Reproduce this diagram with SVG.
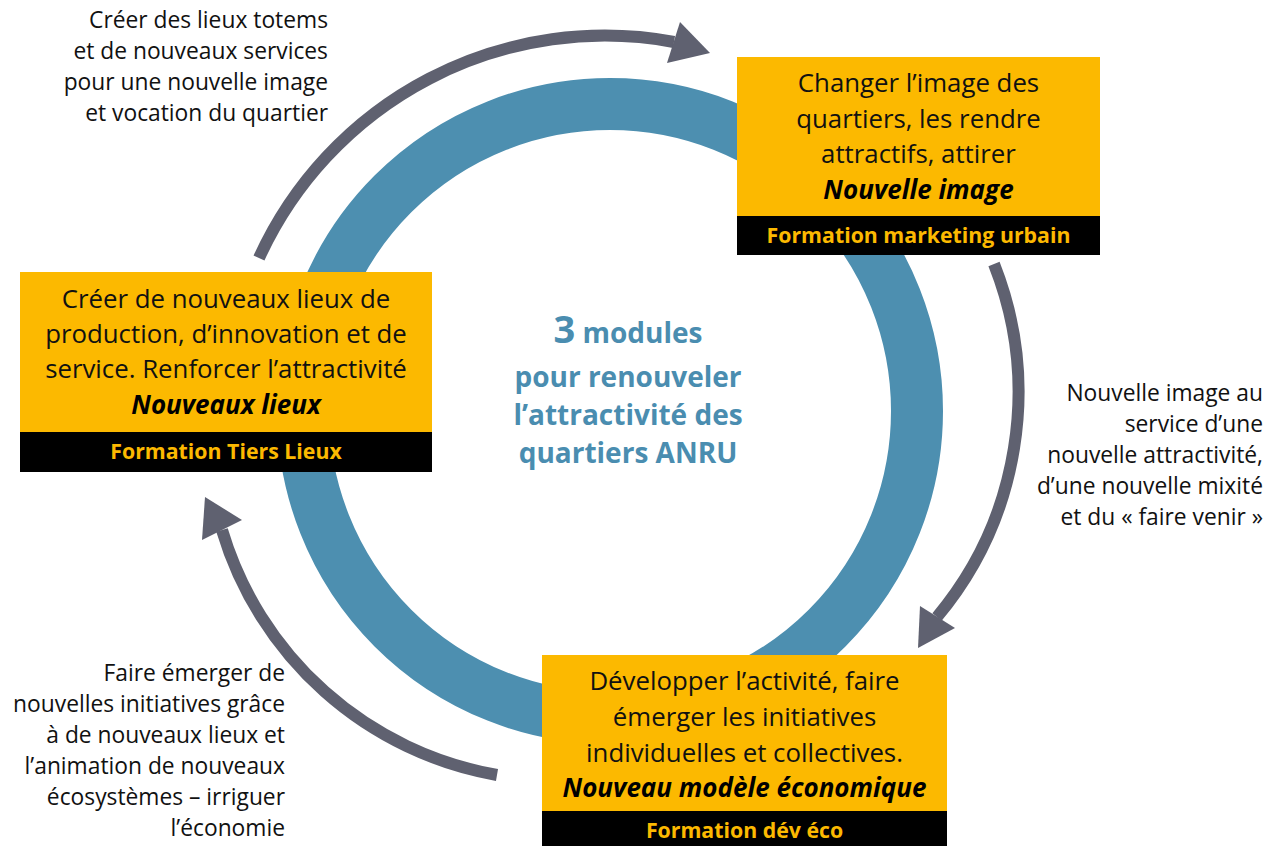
<svg xmlns="http://www.w3.org/2000/svg" width="1270" height="846" viewBox="0 0 1270 846">
<style>
.box{fill:#FCB900}
.band{fill:#000}
.bt{font-family:"Open Sans","Liberation Sans",sans-serif;font-size:25.8px;fill:#111;text-anchor:middle}
.bi{font-family:"Open Sans","Liberation Sans",sans-serif;font-size:26px;fill:#000;text-anchor:middle;font-weight:bold;font-style:italic}
.bb{font-family:"Open Sans","Liberation Sans",sans-serif;font-size:21.3px;fill:#FCB900;text-anchor:middle;font-weight:bold}
.lab{font-family:"Open Sans","Liberation Sans",sans-serif;font-size:22.8px;fill:#111;text-anchor:end}
.ctr{font-family:"Open Sans","Liberation Sans",sans-serif;font-size:28px;fill:#4A8DB0;text-anchor:middle;font-weight:bold}
.shaft{fill:none;stroke:#5F6170;stroke-width:12;stroke-linecap:butt}
.head{fill:#5F6170}
</style>
<g id="ring">
<circle cx="610" cy="411" r="307" fill="none" stroke="#4D8FB0" stroke-width="52"/>
</g>
<g id="connectors">
<path class="shaft" d="M 259 258 A 380 380 0 0 1 674 42"/>
<polygon class="head" points="680,22 710,53 667,63"/>
<path class="shaft" d="M 994 264 A 350 350 0 0 1 937 617"/>
<polygon class="head" points="920,606 918,648 955,628"/>
<path class="shaft" d="M 497 775 A 350 350 0 0 1 222 530"/>
<polygon class="head" points="202,540 205,497 242,520"/>
</g>
<g id="center-title">
<text class="ctr" x="628" y="343"><tspan font-size="38">3</tspan> modules</text>
<text class="ctr" x="628" y="387">pour renouveler</text>
<text class="ctr" x="628" y="425">l’attractivité des</text>
<text class="ctr" x="628" y="463">quartiers ANRU</text>
</g>
<g id="node-image">
<rect class="box" x="737" y="57" width="363" height="159"/>
<rect class="band" x="737" y="216" width="363" height="39"/>
<text class="bt" x="918.5" y="92">Changer l’image des</text>
<text class="bt" x="918.5" y="127.5">quartiers, les rendre</text>
<text class="bt" x="918.5" y="163">attractifs, attirer</text>
<text class="bi" x="918.5" y="198.5">Nouvelle image</text>
<text class="bb" x="918.5" y="243">Formation marketing urbain</text>
</g>
<g id="node-lieux">
<rect class="box" x="20" y="272" width="412" height="160"/>
<rect class="band" x="20" y="432" width="412" height="40"/>
<text class="bt" x="226" y="308">Créer de nouveaux lieux de</text>
<text class="bt" x="226" y="343">production, d’innovation et de</text>
<text class="bt" x="226" y="378">service. Renforcer l’attractivité</text>
<text class="bi" x="226" y="414">Nouveaux  lieux</text>
<text class="bb" x="226" y="459">Formation Tiers Lieux</text>
</g>
<g id="node-eco">
<rect class="box" x="542" y="655" width="405" height="156"/>
<rect class="band" x="542" y="811" width="405" height="40"/>
<text class="bt" x="744.5" y="690">Développer  l’activité, faire</text>
<text class="bt" x="744.5" y="726">émerger les initiatives</text>
<text class="bt" x="744.5" y="762">individuelles et collectives.</text>
<text class="bi" x="744.5" y="797">Nouveau  modèle économique</text>
<text class="bb" x="744.5" y="838">Formation dév éco</text>
</g>
<g id="label-top">
<text class="lab" x="328" y="28">Créer des lieux totems</text>
<text class="lab" x="328" y="59">et de nouveaux services</text>
<text class="lab" x="328" y="90">pour une nouvelle image</text>
<text class="lab" x="328" y="121">et vocation du quartier</text>
</g>
<g id="label-right">
<text class="lab" x="1263" y="401">Nouvelle image au</text>
<text class="lab" x="1263" y="432">service d’une</text>
<text class="lab" x="1263" y="463">nouvelle attractivité,</text>
<text class="lab" x="1263" y="494">d’une nouvelle mixité</text>
<text class="lab" x="1263" y="525">et du « faire venir »</text>
</g>
<g id="label-bottom">
<text class="lab" x="285" y="681">Faire émerger de</text>
<text class="lab" x="285" y="712">nouvelles initiatives grâce</text>
<text class="lab" x="285" y="743">à de nouveaux lieux et</text>
<text class="lab" x="285" y="774">l’animation de nouveaux</text>
<text class="lab" x="285" y="805">écosystèmes – irriguer</text>
<text class="lab" x="285" y="836">l’économie</text>
</g>
</svg>
